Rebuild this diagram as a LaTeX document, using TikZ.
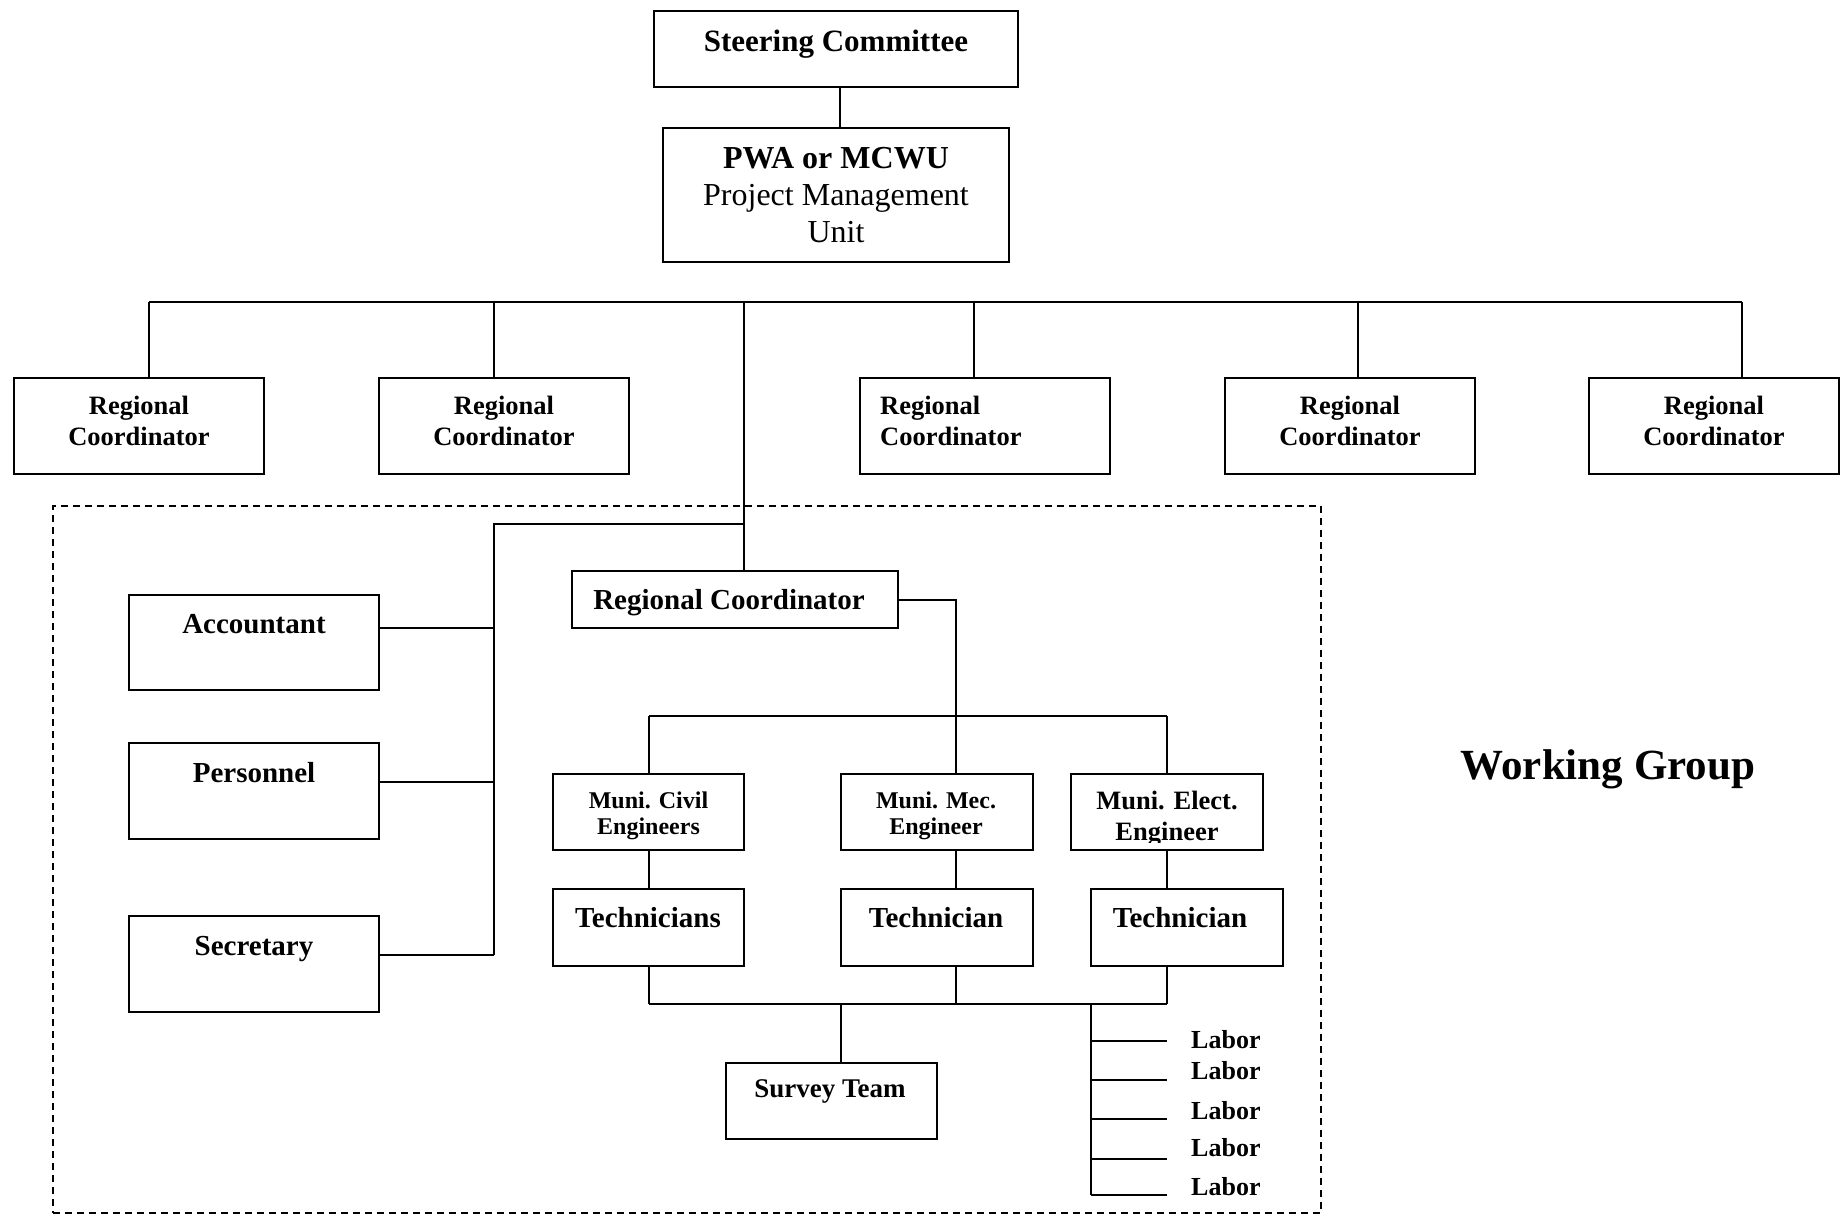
\documentclass[tikz,border=0pt]{standalone}
\usepackage{fontspec}
\setmainfont{Liberation Serif}
\newcommand\myfs[1]{\fontsize{#1}{#1}\selectfont}
\begin{document}
\begin{tikzpicture}[x=1pt,y=-1pt,
  box/.style={draw, line width=2pt, inner sep=0pt, outer sep=0pt},
  rcbox/.style={box, minimum width=250, minimum height=96},
  sidebox/.style={box, minimum width=250, minimum height=96},
  engbox/.style={box, minimum width=192, minimum height=76},
  techbox/.style={box, minimum width=192, minimum height=77},
  conn/.style={line width=1.8pt},
  lbl/.style={inner sep=0pt, anchor=base},
  lblw/.style={inner sep=0pt, anchor=base west},
]
\useasboundingbox (0,0) rectangle (1841,1216);

% frame of the working group
\node[draw, line width=1.8pt, dash pattern=on 7pt off 5pt, inner sep=0pt,
      minimum width=1268, minimum height=707] (wgframe) at (687,859.5) {};

% top boxes
\node[box, minimum width=364, minimum height=76] (steer) at (836,49) {};
\node[box, minimum width=346, minimum height=134] (pwa) at (836,195) {};
\node[lbl, font=\bfseries\myfs{31}] (tsteer) at (836,51) {Steering Committee};
\node[lbl, font=\bfseries\myfs{32}] (tpwa1) at (836,168) {PWA or MCWU};
\node[lbl, font=\myfs{32}] (tpwa2) at (836,205) {Project Management};
\node[lbl, font=\myfs{32}] (tpwa3) at (836,242) {Unit};
\coordinate (sp) at (840,0);
\draw[conn] (steer.south -| sp) -- (pwa.north -| sp);

% regional coordinators
\node[rcbox] (rc1) at (139,426) {};
\node[rcbox] (rc2) at (504,426) {};
\node[rcbox] (rc3) at (984.5,426) {};
\node[rcbox] (rc4) at (1350,426) {};
\node[rcbox] (rc5) at (1714,426) {};
\node[lbl, font=\bfseries\myfs{26.5}] (trc1a) at (139,414) {Regional};
\node[lbl, font=\bfseries\myfs{26.5}] (trc1b) at (139,445) {Coordinator};
\node[lbl, font=\bfseries\myfs{26.5}] (trc2a) at (504,414) {Regional};
\node[lbl, font=\bfseries\myfs{26.5}] (trc2b) at (504,445) {Coordinator};
\node[lblw, font=\bfseries\myfs{26.5}] (trc3a) at (880,414) {Regional};
\node[lblw, font=\bfseries\myfs{26.5}] (trc3b) at (880,445) {Coordinator};
\node[lbl, font=\bfseries\myfs{26.5}] (trc4a) at (1350,414) {Regional};
\node[lbl, font=\bfseries\myfs{26.5}] (trc4b) at (1350,445) {Coordinator};
\node[lbl, font=\bfseries\myfs{26.5}] (trc5a) at (1714,414) {Regional};
\node[lbl, font=\bfseries\myfs{26.5}] (trc5b) at (1714,445) {Coordinator};

\coordinate (d1) at (149,302);
\coordinate (d2) at (494,302);
\coordinate (m)  at (744,302);
\coordinate (d3) at (974,302);
\coordinate (d4) at (1358,302);
\coordinate (d5) at (1742,302);
\draw[conn] (d1) -- (d5);
\draw[conn] (d1) -- (d1 |- rc1.north);
\draw[conn] (d2) -- (d2 |- rc2.north);
\draw[conn] (d3) -- (d3 |- rc3.north);
\draw[conn] (d4) -- (d4 |- rc4.north);
\draw[conn] (d5) -- (d5 |- rc5.north);

% inner regional coordinator
\node[box, minimum width=326, minimum height=57] (irc) at (735,599.5) {};
\node[lbl, font=\bfseries\myfs{29}] (tirc) at (729,609) {Regional Coordinator};
\draw[conn] (m) -- (m |- irc.north);

% side staff
\node[sidebox, minimum height=95] (acc) at (254,642.5) {};
\node[sidebox] (pers) at (254,791) {};
\node[sidebox] (sec) at (254,964) {};
\node[lbl, font=\bfseries\myfs{29}] (tacc) at (254,633) {Accountant};
\node[lbl, font=\bfseries\myfs{29}] (tpers) at (254,782) {Personnel};
\node[lbl, font=\bfseries\myfs{29}] (tsec) at (254,955) {Secretary};
\coordinate (lt) at (744,524);
\coordinate (lb) at (494,524);
\draw[conn] (lt) -- (lb) -- (lb |- 0,955);
\draw[conn] ([yshift=14.5pt]acc.east) -- ([yshift=14.5pt]acc.east -| lb);
\draw[conn] ([yshift=9pt]pers.east) -- ([yshift=9pt]pers.east -| lb);
\draw[conn] ([yshift=9pt]sec.east) -- ([yshift=9pt]sec.east -| lb);

% engineers
\node[engbox, minimum width=191] (civ) at (648.5,812) {};
\node[engbox] (mec) at (937,812) {};
\node[engbox] (ele) at (1167,812) {};
\node[lbl, font=\bfseries\myfs{24}] (tciv1) at (648.5,808) {Muni. Civil};
\node[lbl, font=\bfseries\myfs{24}] (tciv2) at (648.5,834) {Engineers};
\node[lbl, font=\bfseries\myfs{24}] (tmec1) at (936,808) {Muni. Mec.};
\node[lbl, font=\bfseries\myfs{24}] (tmec2) at (936,834) {Engineer};
\node[lbl, font=\bfseries\myfs{26.5}] (tele1) at (1167,809) {Muni. Elect.};
\begin{scope}
  \clip (1072,780) rectangle (1262,842);
  \node[lbl, font=\bfseries\myfs{26.5}] (tele2) at (1167,840) {Engineer};
\end{scope}

\coordinate (ea) at (649,716);
\coordinate (eb) at (956,716);
\coordinate (ec) at (1167,716);
\draw[conn] (irc.east |- 0,600) -- (956,600) -- (eb);
\draw[conn] (ea) -- (ec);
\draw[conn] (ea) -- (ea |- civ.north);
\draw[conn] (eb) -- (eb |- mec.north);
\draw[conn] (ec) -- (ec |- ele.north);

% technicians
\node[techbox, minimum width=191] (tc) at (648.5,927.5) {};
\node[techbox] (tm) at (937,927.5) {};
\node[techbox] (te) at (1186.5,927.5) {};
\node[lbl, font=\bfseries\myfs{29}] (ttc) at (648,927) {Technicians};
\node[lbl, font=\bfseries\myfs{29}] (ttm) at (936,927) {Technician};
\node[lbl, font=\bfseries\myfs{29}] (tte) at (1180,927) {Technician};
\draw[conn] (ea |- civ.south) -- (ea |- tc.north);
\draw[conn] (eb |- mec.south) -- (eb |- tm.north);
\draw[conn] (ec |- ele.south) -- (ec |- te.north);

% bottom bus
\coordinate (ba) at (649,1004);
\coordinate (bb) at (956,1004);
\coordinate (bc) at (1167,1004);
\coordinate (bs) at (841,1004);
\coordinate (bl) at (1091,1004);
\draw[conn] (ba) -- (bc);
\draw[conn] (ba |- tc.south) -- (ba);
\draw[conn] (bb |- tm.south) -- (bb);
\draw[conn] (bc |- te.south) -- (bc);

% survey team
\node[box, minimum width=211, minimum height=76] (survey) at (831.5,1101) {};
\node[lbl, font=\bfseries\myfs{27}] (tsurvey) at (830,1097) {Survey Team};
\draw[conn] (bs) -- (bs |- survey.north);

% labor
\coordinate (l1) at (1167,1041);
\coordinate (l2) at (1167,1080);
\coordinate (l3) at (1167,1119);
\coordinate (l4) at (1167,1159);
\coordinate (l5) at (1167,1195);
\draw[conn] (bl) -- (bl |- l5);
\draw[conn] (bl |- l1) -- (l1);
\draw[conn] (bl |- l2) -- (l2);
\draw[conn] (bl |- l3) -- (l3);
\draw[conn] (bl |- l4) -- (l4);
\draw[conn] (bl |- l5) -- (l5);
\node[lblw, font=\bfseries\myfs{26}] (lab1) at (1191,1048) {Labor};
\node[lblw, font=\bfseries\myfs{26}] (lab2) at (1191,1079) {Labor};
\node[lblw, font=\bfseries\myfs{26}] (lab3) at (1191,1119) {Labor};
\node[lblw, font=\bfseries\myfs{26}] (lab4) at (1191,1156) {Labor};
\node[lblw, font=\bfseries\myfs{26}] (lab5) at (1191,1195) {Labor};

% working group title
\node[lbl, font=\bfseries\myfs{43}] (wg) at (1608,779) {Working Group};
\end{tikzpicture}
\end{document}
